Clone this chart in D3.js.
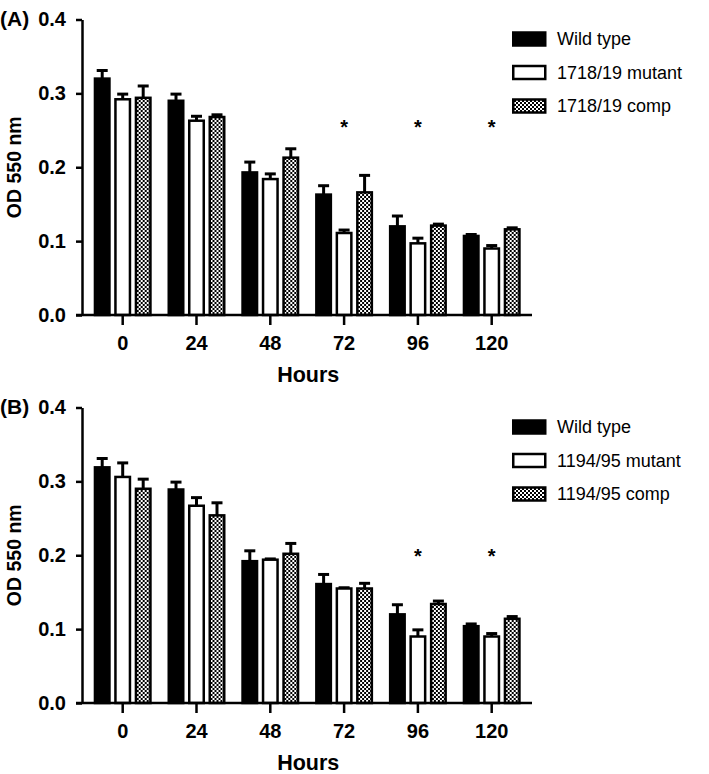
<!DOCTYPE html>
<html>
<head>
<meta charset="utf-8">
<script src="https://cdn.jsdelivr.net/npm/d3@7"></script>
<style>
  html, body { margin: 0; padding: 0; background: #fff; }
  svg { display: block; }
  text { font-family: "Liberation Sans", Arial, Helvetica, sans-serif; fill: #000; }
</style>
</head>
<body>
<svg id="chart" width="709" height="774"></svg>
<script>
// ---------- data ----------
const hours = ["0", "24", "48", "72", "96", "120"];
const yTicks = [0.0, 0.1, 0.2, 0.3, 0.4];

const seriesA = ["Wild type", "1718/19 mutant", "1718/19 comp"];
const wildA = [0.320, 0.290, 0.193, 0.163, 0.120, 0.107];
const wildAErr = [0.011, 0.009, 0.014, 0.012, 0.014, 0.002];
const mutA = [0.292, 0.263, 0.184, 0.111, 0.097, 0.090];
const mutAErr = [0.007, 0.006, 0.007, 0.004, 0.007, 0.004];
const compA = [0.294, 0.268, 0.213, 0.166, 0.121, 0.116];
const compAErr = [0.016, 0.003, 0.012, 0.023, 0.002, 0.002];
const starsA = ["72", "96", "120"];
const starLevelA = 0.26;

const seriesB = ["Wild type", "1194/95 mutant", "1194/95 comp"];
const wildB = [0.319, 0.289, 0.192, 0.161, 0.120, 0.104];
const wildBErr = [0.012, 0.010, 0.014, 0.013, 0.013, 0.003];
const mutB = [0.306, 0.267, 0.194, 0.155, 0.090, 0.090];
const mutBErr = [0.019, 0.011, 0.001, 0.001, 0.009, 0.004];
const compB = [0.290, 0.254, 0.202, 0.155, 0.134, 0.114];
const compBErr = [0.013, 0.017, 0.014, 0.007, 0.004, 0.003];
const starsB = ["96", "120"];
const starLevelB = 0.205;

// ---------- drawing ----------
const svg = d3.select("#chart");
const FONT = '"Liberation Sans", Arial, Helvetica, sans-serif';

const defs = svg.append("defs");
const pat = defs.append("pattern")
  .attr("id", "checker")
  .attr("patternUnits", "userSpaceOnUse")
  .attr("width", 4).attr("height", 4);
pat.append("rect").attr("width", 4).attr("height", 4).attr("fill", "#fff");
pat.append("rect").attr("x", 0).attr("y", 0).attr("width", 2).attr("height", 2).attr("fill", "#000");
pat.append("rect").attr("x", 2).attr("y", 2).attr("width", 2).attr("height", 2).attr("fill", "#000");

const fills = ["#000", "#fff", "url(#checker)"];

function drawPanel(cfg) {
  const axisX = 82, axisEnd = 532;
  const top = cfg.top, bottom = cfg.top + 295.5;
  const g = svg.append("g");

  const y = d3.scaleLinear().domain([0, 0.4]).range([bottom, top]);
  const x = d3.scaleBand().domain(hours).range([85.8, 528.6]).padding(0);
  const xs = d3.scaleBand().domain(cfg.series).range([-29, 29]).paddingInner(0.17);

  const rows = hours.map((h, i) => ({
    hour: h,
    vals: cfg.series.map((s, k) => ({ s, k, v: cfg.values[k][i], e: cfg.errors[k][i] }))
  }));

  // bars
  const grp = g.selectAll("g.grp").data(rows).join("g")
    .attr("transform", d => `translate(${x(d.hour) + x.bandwidth() / 2},0)`);

  // error bars (under bars)
  grp.selectAll("line.stem").data(d => d.vals).join("line")
    .attr("x1", d => xs(d.s) + xs.bandwidth() / 2)
    .attr("x2", d => xs(d.s) + xs.bandwidth() / 2)
    .attr("y1", d => y(d.v))
    .attr("y2", d => y(d.v + d.e))
    .attr("stroke", "#000").attr("stroke-width", 3);
  grp.selectAll("line.cap").data(d => d.vals).join("line")
    .attr("x1", d => xs(d.s) + xs.bandwidth() / 2 - 5.5)
    .attr("x2", d => xs(d.s) + xs.bandwidth() / 2 + 5.5)
    .attr("y1", d => y(d.v + d.e))
    .attr("y2", d => y(d.v + d.e))
    .attr("stroke", "#000").attr("stroke-width", 3);

  grp.selectAll("rect.bar").data(d => d.vals).join("rect")
    .attr("x", d => xs(d.s) + 1.25)
    .attr("width", xs.bandwidth() - 2.5)
    .attr("y", d => y(d.v))
    .attr("height", d => y(0) - y(d.v))
    .attr("fill", d => fills[d.k])
    .attr("stroke", "#000").attr("stroke-width", 2.5);

  // y axis
  const yAxis = d3.axisLeft(y).tickValues(yTicks).tickFormat(d3.format(".1f"))
    .tickSize(6).tickSizeOuter(0).tickPadding(10);
  const ya = g.append("g").attr("transform", `translate(${axisX},0)`).call(yAxis);
  ya.select(".domain").attr("stroke-width", 2.5);
  ya.selectAll(".tick line").attr("stroke-width", 2.5);
  ya.selectAll(".tick text").attr("font-family", FONT).attr("font-size", 20)
    .attr("font-weight", "bold").attr("fill", "#000");

  // x axis
  const xAxis = d3.axisBottom(x).tickSize(10).tickSizeOuter(0).tickPadding(10.5);
  const xa = g.append("g").attr("transform", `translate(0,${bottom})`).call(xAxis);
  xa.select(".domain").remove();
  xa.selectAll(".tick line").attr("stroke-width", 2.5);
  xa.selectAll(".tick text").attr("font-family", FONT).attr("font-size", 20)
    .attr("font-weight", "bold").attr("fill", "#000");
  g.append("line")
    .attr("x1", axisX - 6).attr("x2", axisEnd)
    .attr("y1", bottom).attr("y2", bottom)
    .attr("stroke", "#000").attr("stroke-width", 2.5);

  // axis titles
  g.append("text")
    .attr("x", (x.range()[0] + x.range()[1]) / 2 + 1)
    .attr("y", bottom + 67)
    .attr("text-anchor", "middle")
    .attr("font-size", 21.5).attr("font-weight", "bold")
    .text("Hours");
  g.append("text")
    .attr("transform", `translate(21,${(top + bottom) / 2}) rotate(-90)`)
    .attr("text-anchor", "middle")
    .attr("font-size", 19.5).attr("font-weight", "bold")
    .text("OD 550 nm");

  // panel label
  g.append("text")
    .attr("x", 0).attr("y", top + 6.5)
    .attr("font-size", 21).attr("font-weight", "bold")
    .text(cfg.label);

  // stars
  g.selectAll("text.star").data(cfg.stars).join("text")
    .attr("x", d => x(d) + x.bandwidth() / 2)
    .attr("y", y(cfg.starLevel) + 11.5)
    .attr("text-anchor", "middle")
    .attr("font-size", 20).attr("font-weight", "bold")
    .text("*");

  // legend
  const lg = g.append("g").attr("transform", `translate(512,${top + 19.5})`);
  const items = lg.selectAll("g").data(cfg.series).join("g")
    .attr("transform", (d, i) => `translate(0,${i * 33.5})`);
  items.append("rect")
    .attr("x", 1.25).attr("y", -6.5)
    .attr("width", 32).attr("height", 13)
    .attr("fill", (d, i) => fills[i])
    .attr("stroke", "#000").attr("stroke-width", 2.5);
  items.append("text")
    .attr("x", 45).attr("y", 0)
    .attr("dy", "0.36em")
    .attr("font-size", 18)
    .text(d => d);
}

drawPanel({
  top: 19.5, label: "(A)", series: seriesA,
  values: [wildA, mutA, compA], errors: [wildAErr, mutAErr, compAErr],
  stars: starsA, starLevel: starLevelA
});
drawPanel({
  top: 407.5, label: "(B)", series: seriesB,
  values: [wildB, mutB, compB], errors: [wildBErr, mutBErr, compBErr],
  stars: starsB, starLevel: starLevelB
});
</script>
</body>
</html>
